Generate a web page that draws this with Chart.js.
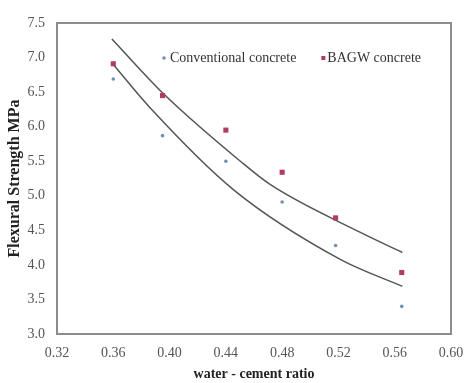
<!DOCTYPE html>
<html><head><meta charset="utf-8">
<script src="https://cdn.jsdelivr.net/npm/chart.js@4.4.0/dist/chart.umd.min.js"></script>
<style>html,body{margin:0;padding:0;background:#fff}#wrap{width:464px;height:383px}</style>
</head><body><div id="wrap"><canvas id="c" width="464" height="383"></canvas></div>
<script>
// water-cement ratios of the measured specimens
const ratios = [0.36, 0.395, 0.44, 0.48, 0.518, 0.565];
// flexural strength (MPa)
const conventional = [6.69, 5.87, 5.50, 4.91, 4.28, 3.40];
const bagw = [6.91, 6.45, 5.95, 5.34, 4.68, 3.89];
// trend lines
const bagwTrendX = [0.359, 0.3955, 0.4503, 0.4717, 0.5356, 0.5654];
const bagwTrendY = [7.27, 6.48, 5.50, 5.16, 4.47, 4.18];
const convTrendX = [0.360, 0.3863, 0.4453, 0.5213, 0.5654];
const convTrendY = [6.90, 6.27, 5.09, 4.08, 3.69];
// axis ticks
const xTicks = [0.32, 0.36, 0.40, 0.44, 0.48, 0.52, 0.56, 0.60];
const yTicks = [3.0, 3.5, 4.0, 4.5, 5.0, 5.5, 6.0, 6.5, 7.0, 7.5];
const legendNames = ['Conventional concrete', 'BAGW concrete'];

const serif = '"Liberation Serif", "Times New Roman", serif';
const zip = (xs, ys) => xs.map((x, i) => ({x: x, y: ys[i]}));

const frame = {
  id: 'frame',
  beforeDatasetsDraw(chart) {
    const {ctx, chartArea: a} = chart;
    ctx.save();
    ctx.strokeStyle = '#8c8c8c';
    ctx.lineWidth = 2;
    ctx.strokeRect(a.left, a.top, a.right - a.left, a.bottom - a.top);
    ctx.restore();
  }
};

// legend drawn inside the plot area
const innerLegend = {
  id: 'innerLegend',
  afterDatasetsDraw(chart) {
    const {ctx, chartArea: a} = chart;
    const ds = chart.data.datasets;
    ctx.save();
    ctx.font = '14px ' + serif;
    ctx.textBaseline = 'middle';
    ctx.textAlign = 'left';
    const y = a.top + 35;
    let x = a.left + 107;
    // conventional: small dot
    ctx.fillStyle = ds[0].backgroundColor;
    ctx.beginPath(); ctx.arc(x, y, 1.8, 0, Math.PI * 2); ctx.fill();
    ctx.fillStyle = '#333';
    ctx.fillText(legendNames[0], x + 6, y);
    x = x + 6 + ctx.measureText(legendNames[0]).width + 27;
    // BAGW: small square
    ctx.fillStyle = ds[1].backgroundColor;
    ctx.fillRect(x - 2, y - 2, 4, 4);
    ctx.fillStyle = '#333';
    ctx.fillText(legendNames[1], x + 4, y);
    ctx.restore();
  }
};

new Chart(document.getElementById('c'), {
  type: 'scatter',
  data: {
    datasets: [
      {label: legendNames[0], data: zip(ratios, conventional), pointStyle: 'circle',
       pointRadius: 1.8, backgroundColor: '#6f8fb3', borderColor: '#6f8fb3', borderWidth: 0, order: 1},
      {label: legendNames[1], data: zip(ratios, bagw), pointStyle: 'rect',
       pointRadius: 3.6, backgroundColor: '#b23a66', borderColor: '#b23a66', borderWidth: 0, order: 0},
      {type: 'line', label: 'bagwTrend', data: zip(bagwTrendX, bagwTrendY), borderColor: '#555',
       borderWidth: 1.5, pointRadius: 0, fill: false, tension: 0.4, cubicInterpolationMode: 'monotone', order: 2},
      {type: 'line', label: 'convTrend', data: zip(convTrendX, convTrendY), borderColor: '#555',
       borderWidth: 1.5, pointRadius: 0, fill: false, tension: 0.4, cubicInterpolationMode: 'monotone', order: 2}
    ]
  },
  options: {
    responsive: false,
    animation: false,
    devicePixelRatio: 1,
    layout: {padding: {left: 0, right: 0, top: 23, bottom: 0}},
    plugins: {
      tooltip: {enabled: false},
      legend: {display: false}
    },
    scales: {
      x: {
        type: 'linear', min: 0.32, max: 0.60,
        afterBuildTicks: s => { s.ticks = xTicks.map(v => ({value: v})); },
        afterFit: s => { s.height = 49; s.paddingRight = 13; s.paddingLeft = 12; },
        ticks: {callback: v => v.toFixed(2), color: '#555', padding: 11, font: {family: serif, size: 14}},
        grid: {display: false, drawTicks: false},
        border: {display: false},
        title: {display: true, text: 'water - cement ratio', color: '#222', padding: {top: 0, bottom: 0},
                font: {family: serif, size: 14, weight: 'bold'}}
      },
      y: {
        type: 'linear', min: 3.0, max: 7.5,
        afterBuildTicks: s => { s.ticks = yTicks.map(v => ({value: v})); },
        afterFit: s => { s.width = 57; },
        ticks: {callback: v => v.toFixed(1), color: '#555', padding: 12, font: {family: serif, size: 14}},
        grid: {display: false, drawTicks: false},
        border: {display: false},
        title: {display: true, text: 'Flexural Strength MPa', color: '#222', padding: {top: 5, bottom: 0},
                font: {family: serif, size: 16, weight: 'bold'}}
      }
    }
  },
  plugins: [frame, innerLegend]
});
</script></body></html>
